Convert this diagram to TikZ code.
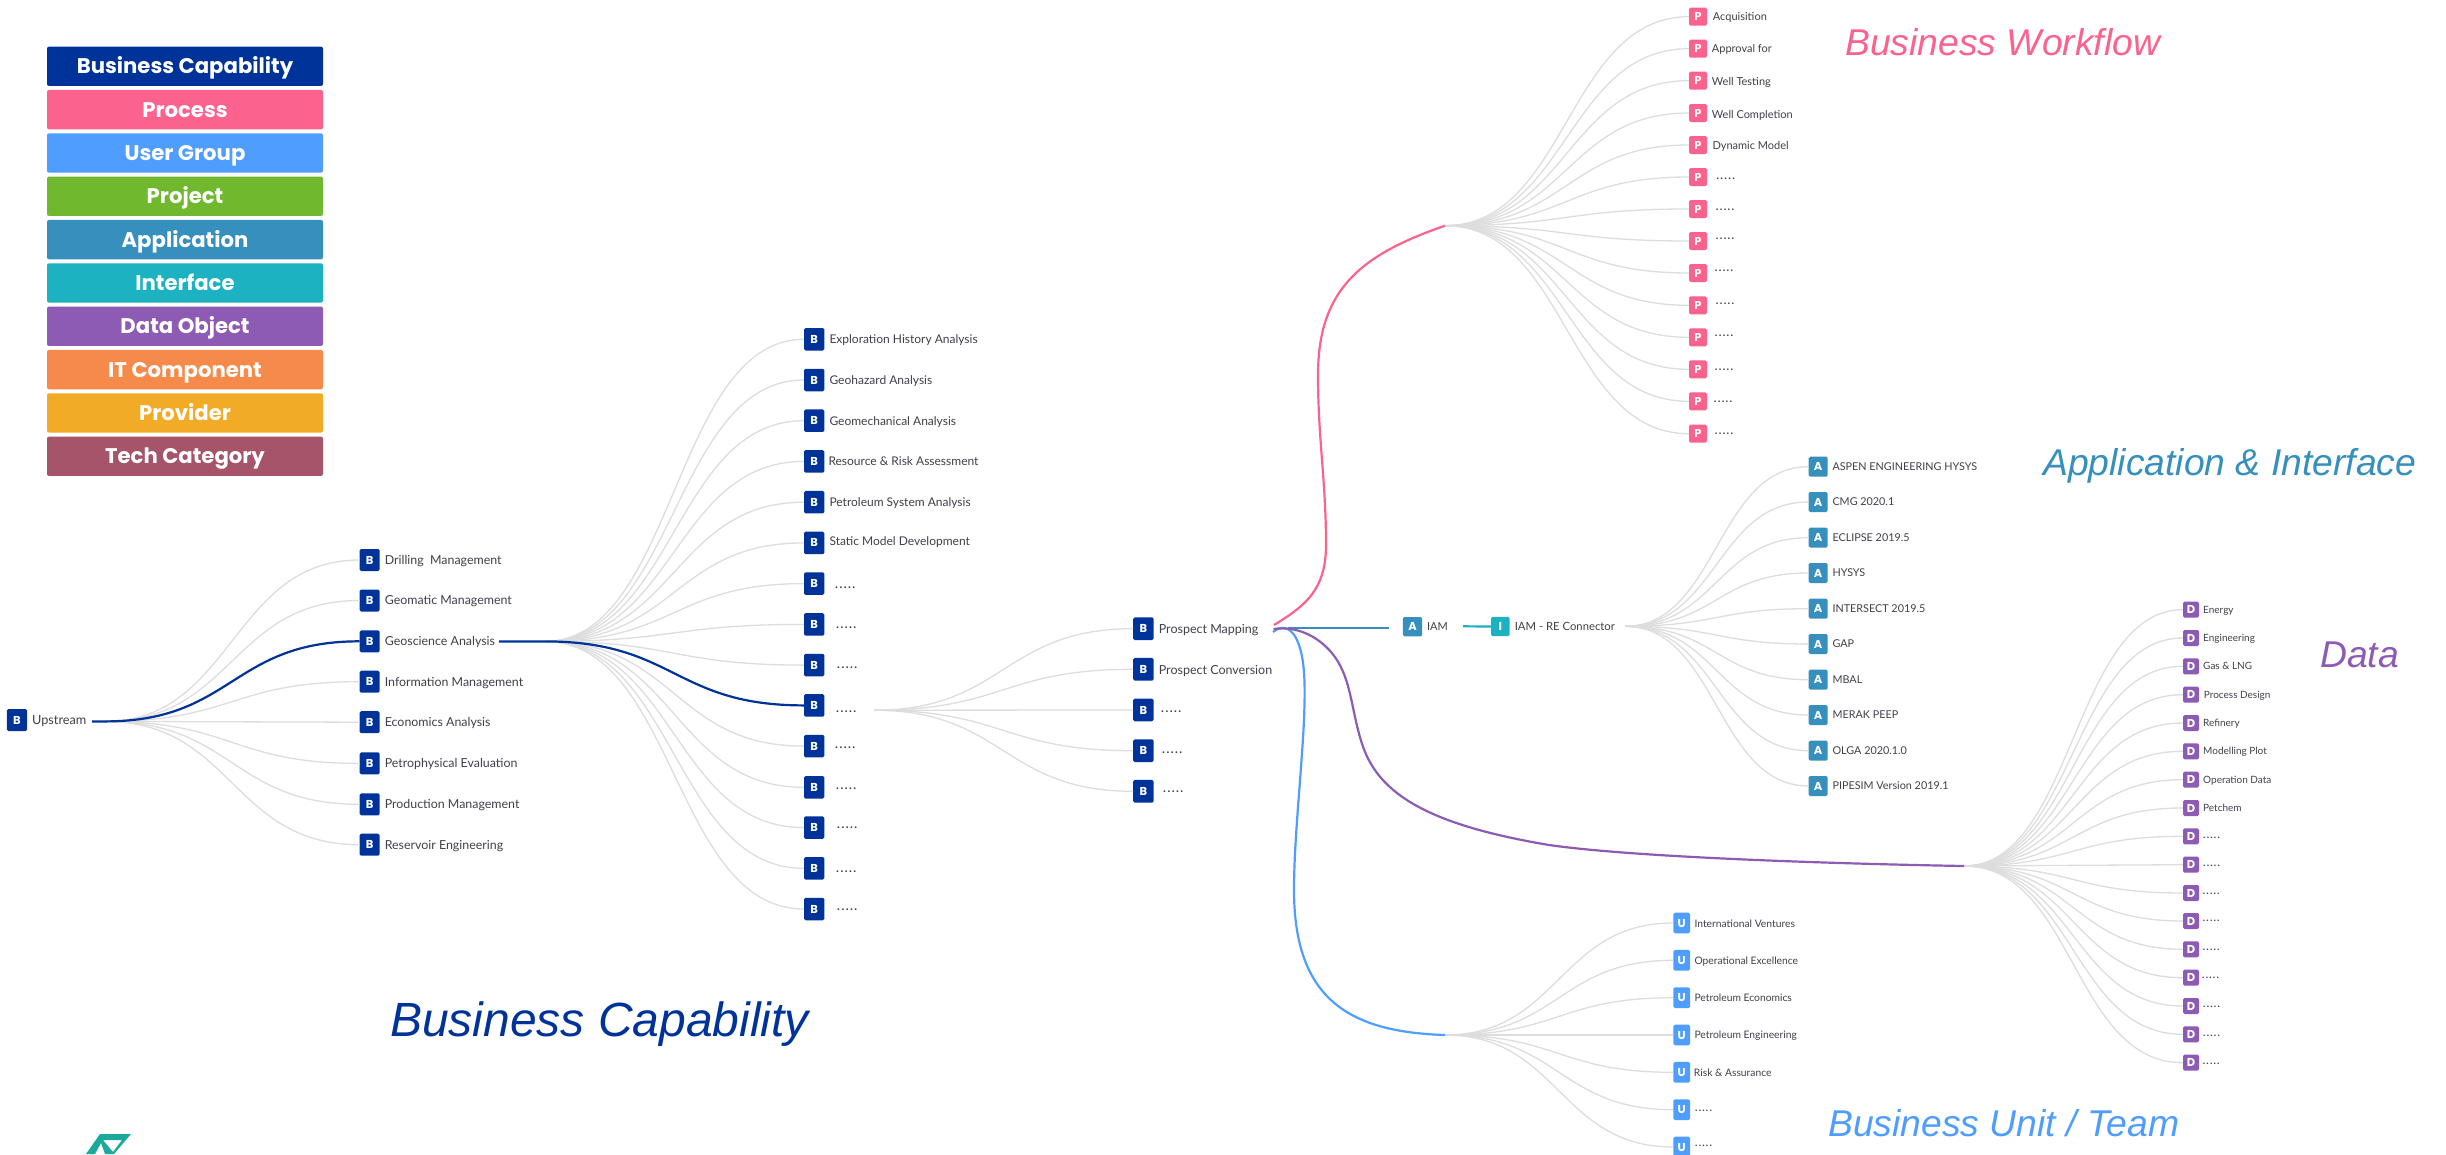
\documentclass[tikz,border=0pt]{standalone}
\usepackage{fontspec}
\setmainfont{Lato}
\newfontfamily\titlefont{Liberation Sans}
\newfontfamily\legendfont{Poppins}
\newfontfamily\dotfont[LetterSpace=12]{Lato Bold}
\usetikzlibrary{calc}
\definecolor{cbiz}{HTML}{003399}
\definecolor{cproc}{HTML}{FB628E}
\definecolor{cuser}{HTML}{4F9EFF}
\definecolor{cproj}{HTML}{70B92F}
\definecolor{capp}{HTML}{368FBC}
\definecolor{cint}{HTML}{1CB2C2}
\definecolor{cdata}{HTML}{8E5BB4}
\definecolor{cit}{HTML}{F58A4B}
\definecolor{cprov}{HTML}{F2AB26}
\definecolor{ctech}{HTML}{A5546A}
\definecolor{cgrey}{HTML}{DDDDDD}
\definecolor{clabel}{HTML}{40404C}
\definecolor{clogo}{HTML}{1AA99B}
\tikzset{
  legendbox/.style={fill=#1,rounded corners=2pt,minimum width=276pt,minimum height=39.3pt,inner sep=0pt,text=white,text height=16pt,text depth=1pt,font=\fontsize{21.2}{22}\selectfont\legendfont\bfseries},
  icon/.style n args={3}{fill=#1,rounded corners=1.5pt,minimum width=#2,minimum height=#3,inner sep=0pt,text=white,font=\fontsize{11.5}{12}\selectfont\legendfont\bfseries},
  lab/.style={anchor=west,inner sep=0pt,text=clabel,font=\fontsize{#1}{#1}\selectfont,text height=.9*#1pt,text depth=.18*#1pt},
  dotlab/.style={anchor=base west,inner sep=0pt,text=clabel,font=\fontsize{#1}{#1}\selectfont\dotfont},
  fanline/.style={draw=cgrey,line width=1.3pt},
  hot/.style={draw=#1,line width=2.2pt},
  title/.style={anchor=base west,inner sep=0pt,text=#1,font=\fontsize{37.3}{40}\selectfont\titlefont\itshape},
}
\newcommand{\fivedots}{.....}
% prefix, letter, icon style, icon x, root, half span, label style, list
\newcommand{\fanout}[8]{%
  \foreach \i/\yy/\tx/\ty/\txt in {#8}{%
    \node[#3] (#1\i) at (#4,\yy) {#2};
    \node[#7] (#1\i-t) at (\tx,\ty) {\txt};
    \draw[fanline] (#5) .. controls ([xshift=#6pt]#5) and ([xshift=-#6pt]#1\i.west) .. (#1\i.west);
  }}
\begin{document}
\begin{tikzpicture}[x=1pt,y=-1pt]
\useasboundingbox (0,0) rectangle (2446,1154);
\fill[white] (0,0) rectangle (2446,1154);

% legend
\foreach \i/\c/\t in {0/cbiz/Business Capability,1/cproc/Process,2/cuser/User Group,3/cproj/Project,4/capp/Application,5/cint/Interface,6/cdata/Data Object,7/cit/IT Component,8/cprov/Provider,9/ctech/Tech Category}{
  \node[legendbox=\c] (leg\i) at (185,66.3+43.33*\i) {\t};
}

% roots
\coordinate (rootA) at (105,721.4);
\coordinate (rootB) at (545,641.4);
\coordinate (rootC) at (874,710.2);
\coordinate (rootP) at (1445,225.7);
\coordinate (rootApp) at (1625,626.3);
\coordinate (rootD) at (1964,866);
\coordinate (rootU) at (1445,1035);

% root node
\node[icon={cbiz}{20.3pt}{22pt}] (up) at (17,720) {B};
\node[lab=12.7] (up-t) at (32,720) {Upstream};

\fanout{a}{B}{icon={cbiz}{20pt}{22pt}}{369.7}{rootA}{128}{lab=12.4}{
1/560/384.6/560/Drilling\ \ Management,
2/600.5/384.6/600.5/Geomatic Management,
3/641.3/384.6/641.3/Geoscience Analysis,
4/681.7/384.6/681.7/Information Management,
5/722.2/384.6/722.2/Economics Analysis,
6/763.4/384.6/763.4/Petrophysical Evaluation,
7/804.3/384.6/804.3/Production Management,
8/844.7/384.6/844.7/Reservoir Engineering}

\fanout{b}{B}{icon={cbiz}{20.3pt}{22.5pt}}{814.2}{rootB}{130}{lab=12}{
1/339.3/829.3/339.3/Exploration History Analysis,
2/380/829.3/380/Geohazard Analysis,
3/420.7/829.3/420.7/Geomechanical Analysis,
4/461.4/828.3/461.4/Resource \& Risk Assessment,
5/502.2/829.3/502.2/Petroleum System Analysis,
6/542.9/829.3/541.6/Static Model Development}
\fanout{b}{B}{icon={cbiz}{20.3pt}{22.5pt}}{814.2}{rootB}{130}{dotlab=12}{
7/583.6/835/588/\fivedots,
8/624.4/836/628.7/\fivedots,
9/665.1/837/668.2/\fivedots,
10/705.4/836/712.2/\fivedots,
11/746.1/835/748.5/\fivedots,
12/787.3/836/789.2/\fivedots,
13/827.6/837/828.8/\fivedots,
14/868.3/836/872.7/\fivedots,
15/909/837/910.2/\fivedots}

\fanout{c}{B}{icon={cbiz}{20.4pt}{22.7pt}}{1143.4}{rootC}{130}{lab=12.5}{
1/628.7/1158.6/629/Prospect Mapping,
2/669.3/1158.6/669.5/Prospect Conversion}
\fanout{c}{B}{icon={cbiz}{20.4pt}{22.7pt}}{1143.4}{rootC}{130}{dotlab=12}{
3/710/1161/712.2/\fivedots,
4/750.7/1162/753.2/\fivedots,
5/791.3/1163/792.5/\fivedots}

\fanout{p}{P}{icon={cproc}{18pt}{18pt}}{1698}{rootP}{122}{lab=11}{
1/16.7/1712.7/16.7/Acquisition,
2/48.7/1711.7/48.7/Approval for,
3/80.7/1711.7/81.7/Well Testing,
4/113/1711.7/114.7/Well Completion,
5/145/1712.3/146/Dynamic Model}
\fanout{p}{P}{icon={cproc}{18pt}{18pt}}{1698}{rootP}{122}{dotlab=11}{
6/177/1716.3/179/\fivedots,
7/209/1715.7/210.3/\fivedots,
8/241/1715.7/239.7/\fivedots,
9/273/1714.7/271/\fivedots,
10/305.3/1715.7/304.7/\fivedots,
11/337.3/1714.7/336/\fivedots,
12/369.3/1714.7/370.7/\fivedots,
13/401.3/1713.7/402/\fivedots,
14/433.7/1714.7/434.7/\fivedots}

\fanout{s}{A}{icon={capp}{19pt}{20pt}}{1818.2}{rootApp}{92}{lab=10.8}{
1/466.7/1832.3/466.7/ASPEN ENGINEERING HYSYS,
2/502/1832.3/502/CMG 2020.1,
3/537.7/1832.3/537.7/ECLIPSE 2019.5,
4/573/1832.3/573/HYSYS,
5/608.7/1832.3/608.7/INTERSECT 2019.5,
6/644/1832.3/644/GAP,
7/679.7/1832.3/679.7/MBAL,
8/715/1832.3/715/MERAK PEEP,
9/750.7/1832.3/750.7/OLGA 2020.1.0,
10/786/1832.3/786/PIPESIM Version 2019.1}

\fanout{d}{D}{icon={cdata}{16pt}{16pt}}{2191}{rootD}{110}{lab=10}{
1/609.7/2203/609.7/Energy,
2/638/2203/638/Engineering,
3/666.3/2203/666.3/Gas \& LNG,
4/694.7/2203.7/694.7/Process Design,
5/723/2203/723/Refinery,
6/751.3/2203/751.3/Modelling Plot,
7/779.7/2203/779.7/Operation Data,
8/808/2203/808/Petchem}
\fanout{d}{D}{icon={cdata}{16pt}{16pt}}{2191}{rootD}{110}{dotlab=10}{
9/836.3/2203/838/\fivedots,
10/864.7/2203/866.8/\fivedots,
11/893/2202.7/894.5/\fivedots,
12/921/2202.7/921.5/\fivedots,
13/949.3/2202.7/950.5/\fivedots,
14/977.7/2202/978/\fivedots,
15/1006/2203/1007/\fivedots,
16/1034.3/2203/1036/\fivedots,
17/1062.7/2202.7/1064/\fivedots}

\fanout{u}{U}{icon={cuser}{16.7pt}{20.7pt}}{1681.7}{rootU}{114}{lab=10.3}{
1/923/1694.3/924/International Ventures,
2/960.3/1694.3/960.3/Operational Excellence,
3/997.7/1694.3/997.7/Petroleum Economics,
4/1035/1694.3/1035/Petroleum Engineering,
5/1072.3/1693.7/1072.3/Risk \& Assurance}
\fanout{u}{U}{icon={cuser}{16.7pt}{20.7pt}}{1681.7}{rootU}{114}{dotlab=10}{
6/1109.7/1695/1111/\fivedots,
7/1147/1695/1146.7/\fivedots}

% highlighted path
\draw[hot=cbiz] ([xshift=-13pt]rootA) -- (rootA) .. controls ([xshift=128pt]rootA) and ([xshift=-128pt]a3.west) .. (a3.west);
\coordinate (geoOut) at (499,641.4);
\draw[hot=cbiz] (geoOut) -- (rootB) .. controls ([xshift=130pt]rootB) and ([xshift=-130pt]b10.west) .. (b10.west);

% prospect mapping branches
\coordinate (pmP) at (1274,625);
\coordinate (pmM) at (1273.5,629);
\coordinate (pmU) at (1273,632);
\coordinate (pmA) at (1288,627.7);
\coordinate (iamIn) at (1388.6,627.7);
\coordinate (iamOut) at (1463.2,626.3);
\draw[hot=cproc] (pmP) .. controls (1305,606) and (1326,590) .. (1326,545)
  .. controls (1326,480) and (1318,440) .. (1318,375)
  .. controls (1318,290) and (1360,255) .. (rootP);
\draw[hot=cuser] (pmU) .. controls (1280,626) and (1290,625) .. (1297,640)
  .. controls (1306,660) and (1305,690) .. (1304,720)
  .. controls (1301,780) and (1294,840) .. (1294,890)
  .. controls (1294,1000) and (1350,1032) .. (rootU);
\draw[hot=capp] (pmA) -- (iamIn);
\draw[hot=cdata] (pmM) .. controls (1300,625) and (1325,640) .. (1338,661.7)
  .. controls (1352,685) and (1352,715) .. (1363,746.7)
  .. controls (1380,795) and (1430,825) .. (1549,845)
  .. controls (1640,858) and (1850,864) .. (rootD);

\node[icon={capp}{19.3pt}{19.3pt}] (iam) at (1412.5,626.7) {A};
\node[lab=11] (iam-t) at (1426.8,626.7) {IAM};
\node[icon={cint}{18.6pt}{19.3pt}] (conn) at (1500.3,626.5) {I};
\node[lab=11.3] (conn-t) at (1514.6,626.5) {IAM - RE Connector};
\draw[hot=cint] (iamOut) -- (conn.west);

% titles
\node[title=cbiz,font=\fontsize{48}{50}\selectfont\titlefont\itshape] (tBC) at (390,1036.8) {Business Capability};
\node[title=cproc] (tBW) at (1845,55.7) {Business Workflow};
\node[title=capp] (tAI) at (2043,475) {Application \& Interface};
\node[title=cdata] (tD) at (2320,667.3) {Data};
\node[title=cuser] (tBU) at (1828,1136.7) {Business Unit / Team};

% logo
\fill[clogo,even odd rule] (100,1134) -- (131,1134) -- (114,1154) -- (105,1154) -- (101,1143) -- (95,1154) -- (86,1154) -- cycle
  (103,1140) -- (122,1140) -- (113,1152) -- cycle;
\end{tikzpicture}
\end{document}
